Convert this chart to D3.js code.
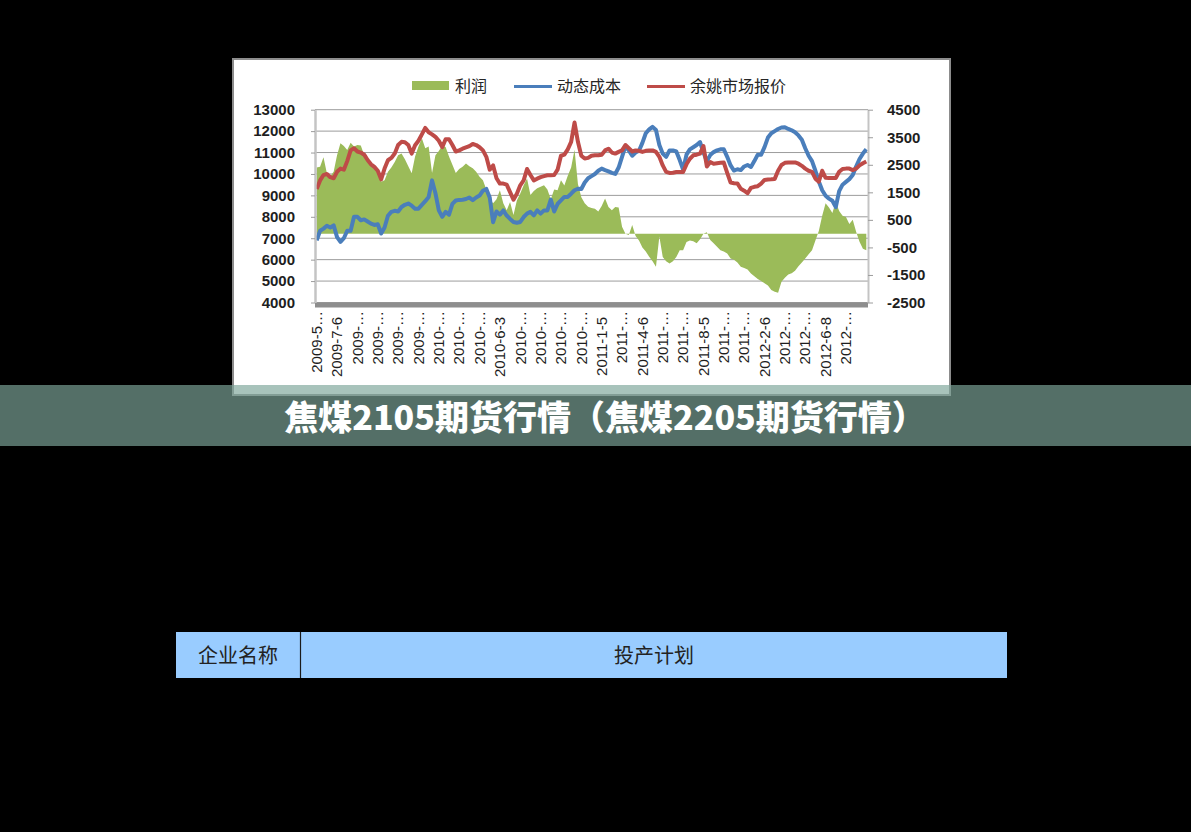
<!DOCTYPE html>
<html>
<head>
<meta charset="utf-8">
<title>焦煤2105期货行情</title>
<style>
  html, body { margin: 0; padding: 0; background: #000; }
  svg { display: block; }
</style>
</head>
<body>
<script src="https://d3js.org/d3.v7.min.js"></script>
<script>
var width = 1191, height = 832;

// ---- data ----
var xLabels = ["2009-5…","2009-7-6","2009-…","2009-…","2009-…","2009-…","2010-…","2010-…","2010-…","2010-6-3",
               "2010-…","2010-…","2010-…","2010-…","2011-1-5","2011-…","2011-4-6","2011-…","2011-…","2011-8-5",
               "2011-…","2011-…","2012-2-6","2012-…","2012-…","2012-6-8","2012-…"];
var labelStep = 6;
var leftTicks = [4000,5000,6000,7000,8000,9000,10000,11000,12000,13000];
var rightTicks = [-2500,-1500,-500,500,1500,2500,3500,4500];
var seriesNames = ["利润","动态成本","余姚市场报价"];

// 利润 (right axis)
var profit = [
  2400, 2430, 2770, 2190, 2080, 2250, 2850, 3280, 3180, 3040,
  3300, 3160, 3220, 3200, 2850, 2670, 2550, 2370, 2250, 1880,
  1940, 2250, 2400, 2600, 2850, 2910, 2700, 2450, 2190, 2800,
  3160, 3460, 3100, 3160, 2200, 2850, 3000, 3200, 3150, 2800,
  2500, 2200, 2350, 2430, 2550, 2450, 2370, 2250, 2070, 1940,
  1600, 1240, 1100, 1250, 1580, 1100, 850, 1150, 680, 1200,
  1460, 1760, 2000, 1400, 1550, 1650, 1700, 1760, 1600, 1250,
  1600, 1580, 1940, 1750, 2100, 2400, 3050, 1800, 1320, 1100,
  980, 930, 900, 800, 1000, 1280, 970, 850, 970, 950,
  250, 0, -50, 310, -90, -250, -500, -650, -840, -1000,
  -1200, -100, -850, -1000, -1080, -1000, -850, -600, -600, -300,
  -250, -280, -350, -200, 0, 50, -230, -350, -480, -600,
  -650, -720, -900, -950, -1050, -1200, -1250, -1300, -1450, -1550,
  -1650, -1720, -1800, -1880, -2050, -2110, -2150, -1750, -1600, -1480,
  -1440, -1350, -1180, -1050, -900, -750, -600, -250, 100, 650,
  1100, 950, 750, 1150, 820, 650, 600, 350, 500, 70,
  -290, -550, -600
];

// 动态成本 (left axis)
var cost = [
  6900, 7350, 7450, 7580, 7500, 7600, 7050, 6830, 7000, 7350,
  7350, 8000, 8000, 7840, 7880, 7780, 7680, 7620, 7650, 7220,
  7500, 8050, 8230, 8280, 8250, 8460, 8560, 8620, 8520, 8380,
  8380, 8560, 8730, 8930, 9700, 9100, 8300, 8000, 8230, 8100,
  8600, 8760, 8790, 8800, 8830, 8900, 8780, 8900, 8990, 9220,
  9300, 8900, 7750, 8250, 8100, 8300, 8060, 7900, 7760, 7720,
  7760, 7990, 8150, 8230, 8070, 8300, 8150, 8300, 8300, 8800,
  8250, 8600, 8770, 8930, 8930, 9080, 9240, 9310, 9300, 9600,
  9800, 9900, 10000, 10150, 10250, 10180, 10120, 10050, 10000, 10300,
  10800, 11300, 11100, 10850, 11000, 11080, 11450, 11900, 12080, 12200,
  12050, 11350, 10950, 10800, 11100, 11100, 11050, 10650, 10200, 10900,
  11150, 11250, 11350, 11490, 11000, 10600, 10880, 11020, 11100, 11150,
  11150, 10800, 10400, 10160, 10220, 10180, 10350, 10420, 10330, 10600,
  10900, 10900, 11250, 11700, 11900, 12000, 12100, 12170, 12180, 12100,
  12040, 11950, 11800, 11600, 11200, 10850, 10600, 10150, 9650, 9240,
  8980, 8850, 8750, 8450, 9200, 9500, 9630, 9760, 9950, 10350,
  10700, 10950, 11150
];

// 余姚市场报价 (left axis)
var price = [
  9300, 9700, 9950, 10000, 9850, 9800, 10100, 10250, 10200, 10600,
  11100, 11200, 11050, 11000, 10900, 10650, 10450, 10330, 10150, 9750,
  10250, 10640, 10750, 10950, 11350, 11500, 11480, 11350, 10950, 11340,
  11550, 11850, 12150, 11950, 11850, 11730, 11550, 11250, 11620, 11620,
  11350, 11050, 11100, 11180, 11240, 11300, 11400, 11350, 11250, 11100,
  10800, 10200, 10400, 9800, 9550, 9550, 9500, 9150, 8800, 9080,
  9470, 9700, 10230, 9950, 9700, 9780, 9850, 9900, 9940, 9940,
  9950, 10200, 10850, 10900, 11150, 11500, 12400, 11500, 10850, 10720,
  10750, 10850, 10870, 10870, 10900, 11100, 11180, 11000, 10950, 11030,
  11100, 11350, 11200, 11050, 11100, 11080, 11030, 11080, 11100, 11100,
  11030, 10800, 10400, 10100, 10050, 10060, 10090, 10090, 10090, 10450,
  10710, 10870, 10900, 10950, 11300, 10350, 10560, 10480, 10500, 10520,
  10530, 10050, 9600, 9570, 9560, 9310, 9220, 9100, 9350, 9400,
  9430, 9550, 9720, 9740, 9750, 9770, 10150, 10420, 10520, 10540,
  10540, 10540, 10480, 10380, 10250, 10150, 10100, 9780, 9640, 10150,
  9820, 9810, 9810, 9810, 10100, 10230, 10250, 10250, 10180, 10250,
  10400, 10500, 10580
];

var title = "焦煤2105期货行情（焦煤2205期货行情）";
var tableHead = ["企业名称", "投产计划"];

var colors = ["#9BBB59", "#4A7EBB", "#BE4B48"];

var svg = d3.select("body").append("svg")
    .attr("width", width)
    .attr("height", height);

// chart picture panel
svg.append("rect")
    .attr("x", 233).attr("y", 59)
    .attr("width", 717).attr("height", 336)
    .attr("fill", "#fff")
    .attr("stroke", "#8c8c8c")
    .attr("stroke-width", 2);

var plot = {left: 315, right: 868, top: 109.7, bottom: 302.5};

var x = d3.scaleBand()
    .domain(d3.range(profit.length))
    .range([plot.left, plot.right]);
var xc = function(i) { return x(i) + x.bandwidth() / 2; };

var y = d3.scaleLinear().domain([4000, 13000]).range([plot.bottom, plot.top]);
var y2 = d3.scaleLinear().domain([-2500, 4500]).range([plot.bottom, plot.top]);

// gridlines
svg.append("g").selectAll("line")
    .data(leftTicks)
    .enter()
    .append("line")
    .attr("x1", plot.left).attr("x2", plot.right)
    .attr("y1", function(d) { return y(d); })
    .attr("y2", function(d) { return y(d); })
    .attr("stroke", "#9c9c9c")
    .attr("stroke-width", 1);

// profit area
svg.append("path")
    .datum(profit)
    .attr("fill", colors[0])
    .attr("d", d3.area()
        .x(function(d, i) { return xc(i); })
        .y0(y2(0))
        .y1(function(d) { return y2(d); }));

// lines
var line = d3.line()
    .x(function(d, i) { return xc(i); })
    .y(function(d) { return y(d); });

svg.append("path")
    .datum(cost)
    .attr("fill", "none")
    .attr("stroke", colors[1])
    .attr("stroke-width", 4)
    .attr("stroke-linejoin", "round")
    .attr("d", line);

svg.append("path")
    .datum(price)
    .attr("fill", "none")
    .attr("stroke", colors[2])
    .attr("stroke-width", 4)
    .attr("stroke-linejoin", "round")
    .attr("d", line);

// floor
svg.append("rect")
    .attr("x", plot.left).attr("y", plot.bottom)
    .attr("width", plot.right - plot.left).attr("height", 5)
    .attr("fill", "#8e8e8e");

var plain = function(d) { return String(d); };

// left axis
var gl = svg.append("g")
    .attr("transform", "translate(" + plot.left + ",0)")
    .call(d3.axisLeft(y).tickValues(leftTicks).tickFormat(plain)
        .tickSize(4).tickSizeOuter(0).tickPadding(16));
gl.select(".domain").attr("stroke", "#c4c4c4").attr("stroke-width", 2.5);
gl.selectAll(".tick line").attr("stroke", "#9c9c9c");
gl.selectAll("text")
    .attr("fill", "#1e1e1e")
    .style("font-family", "'Liberation Sans', Arial, sans-serif")
    .style("font-weight", "bold")
    .style("font-size", "15px");

// right axis
var gr = svg.append("g")
    .attr("transform", "translate(" + plot.right + ",0)")
    .call(d3.axisRight(y2).tickValues(rightTicks).tickFormat(plain)
        .tickSize(5).tickSizeOuter(0).tickPadding(14));
gr.select(".domain").attr("stroke", "#c4c4c4").attr("stroke-width", 2);
gr.selectAll(".tick line").attr("stroke", "#9c9c9c");
gr.selectAll("text")
    .attr("fill", "#1e1e1e")
    .style("font-family", "'Liberation Sans', Arial, sans-serif")
    .style("font-weight", "bold")
    .style("font-size", "15px");

// category axis
var gx = svg.append("g")
    .attr("transform", "translate(0," + plot.bottom + ")")
    .call(d3.axisBottom(x)
        .tickValues(xLabels.map(function(d, k) { return k * labelStep; }))
        .tickFormat(function(d) { return xLabels[d / labelStep]; })
        .tickSize(0));
gx.select(".domain").remove();
gx.selectAll("text")
    .attr("transform", "rotate(-90)")
    .attr("text-anchor", "end")
    .attr("x", function(d) { return xLabels[d / labelStep].indexOf("…") >= 0 ? -8.5 : -14.5; })
    .attr("y", 0)
    .attr("dy", "0.35em")
    .attr("fill", "#1e1e1e")
    .style("font-family", "'Liberation Sans', Arial, sans-serif")
    .style("font-size", "15px");

// legend
var legend = svg.append("g").attr("transform", "translate(0,86.5)");
var legX = [412, 514, 647];
seriesNames.forEach(function(name, k) {
    if (k === 0) {
        legend.append("rect")
            .attr("x", legX[k]).attr("y", -5.5)
            .attr("width", 37).attr("height", 9)
            .attr("fill", colors[k]);
    } else {
        legend.append("line")
            .attr("x1", legX[k]).attr("x2", legX[k] + 38)
            .attr("y1", 0).attr("y2", 0)
            .attr("stroke", colors[k])
            .attr("stroke-width", 3);
    }
    legend.append("text")
        .attr("x", legX[k] + 43)
        .attr("y", 0)
        .attr("dy", "0.36em")
        .attr("fill", "#262626")
        .style("font-family", "'Noto Sans CJK SC', sans-serif")
        .style("font-size", "16px")
        .text(name);
});

// title banner
svg.append("rect")
    .attr("x", 0).attr("y", 385)
    .attr("width", width).attr("height", 61)
    .attr("fill", "rgb(126,166,153)")
    .attr("fill-opacity", 0.67);

svg.append("text")
    .attr("x", 605)
    .attr("y", 430)
    .attr("text-anchor", "middle")
    .attr("fill", "#fff")
    .style("font-family", "'Noto Sans CJK SC', sans-serif")
    .style("font-weight", "900")
    .style("font-size", "34px")
    .text(title);

// table header
svg.append("rect")
    .attr("x", 176).attr("y", 632)
    .attr("width", 831).attr("height", 46)
    .attr("fill", "#99CCFF");
svg.append("line")
    .attr("x1", 300.5).attr("x2", 300.5)
    .attr("y1", 632).attr("y2", 678)
    .attr("stroke", "#1a1a1a")
    .attr("stroke-width", 1.2);

var cellCenters = [238, 654];
svg.append("g").selectAll("text")
    .data(tableHead)
    .enter()
    .append("text")
    .attr("x", function(d, i) { return cellCenters[i]; })
    .attr("y", 663)
    .attr("text-anchor", "middle")
    .attr("fill", "#222")
    .style("font-family", "'Noto Sans CJK SC', sans-serif")
    .style("font-size", "20px")
    .text(function(d) { return d; });
</script>
</body>
</html>
